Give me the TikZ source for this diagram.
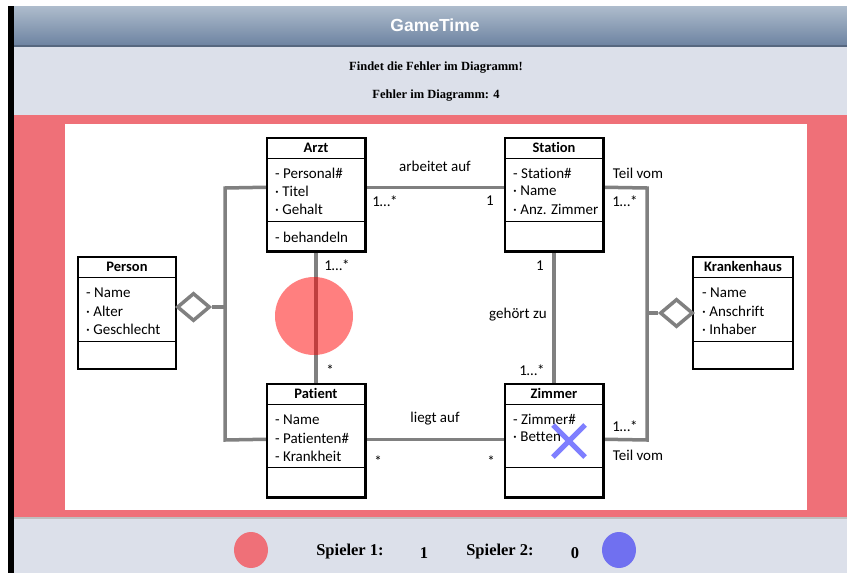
\documentclass[tikz,border=0pt]{standalone}
\usepackage{fontspec}
\setmainfont{Carlito}[Ligatures={NoCommon}]
\newfontfamily\hdrfont{Liberation Sans}
\newfontfamily\tmsfont{Liberation Serif}
\usetikzlibrary{shapes.geometric,calc}
\definecolor{hdrtop}{HTML}{AEBCCC}
\definecolor{hdrbot}{HTML}{6E84A2}
\definecolor{hdrline}{HTML}{56677F}
\definecolor{panel}{HTML}{DCE0EA}
\definecolor{band}{HTML}{EF7078}
\definecolor{conngray}{HTML}{808080}
\definecolor{pone}{HTML}{EF7078}
\definecolor{ptwo}{HTML}{7070F0}
\begin{document}
\begin{tikzpicture}[x=1pt,y=-1pt,
  umlbox/.style={draw=black,line width=1.5pt,fill=white,rectangle,inner sep=0pt,minimum width=98pt,minimum height=113pt},
  sep/.style={draw=black,line width=1.5pt},
  cls/.style={inner sep=0pt,font=\fontsize{14.5}{16}\selectfont\bfseries},
  attr/.style={anchor=west,inner sep=0pt,font=\fontsize{15}{17}\selectfont},
  lbl/.style={inner sep=0pt,font=\fontsize{15}{17}\selectfont},
  conn/.style={draw=conngray,line width=3.5pt},
  agg/.style={diamond,draw=conngray,line width=3.5pt,fill=white,inner sep=0pt,minimum width=33pt,minimum height=28pt},
  info/.style={inner sep=0pt,font=\tmsfont\bfseries\fontsize{12.5}{15}\selectfont},
  score/.style={inner sep=0pt,font=\tmsfont\bfseries\fontsize{16.5}{19}\selectfont},
]
% backgrounds
\fill[white] (0,0) rectangle (847,573);
\useasboundingbox (0,0) rectangle (847,573);
\fill[black] (8,6) rectangle (14,573);
\shade[top color=hdrtop,bottom color=hdrbot] (14,6) rectangle (847,45);
\fill[hdrline] (14,45) rectangle (847,47);
\fill[panel] (14,47) rectangle (847,115);
\fill[band] (14,115) rectangle (847,517);
\fill[white] (65,124) rectangle (807,510);
\fill[panel] (14,518) rectangle (847,573);
\fill[black!25] (14,517) rectangle (847,518.5);

% header texts
\node[inner sep=0pt,text=white,font=\hdrfont\bfseries\fontsize{17.5}{20}\selectfont] (title) at (435,25) {GameTime};
\node[info] (task) at (436,68) {Findet die Fehler im Diagramm!};
\node[info] (count) at (436,96) {Fehler im Diagramm: 4};

% classes
\node[umlbox] (arzt) at (316,194.5) {};
\node[umlbox] (station) at (554,194.5) {};
\node[umlbox,minimum height=112pt] (person) at (127,313) {};
\node[umlbox,minimum width=100pt,minimum height=112pt] (kh) at (743,313) {};
\node[umlbox] (patient) at (316,440.5) {};
\node[umlbox] (zimmer) at (554,440.5) {};

% connectors
\coordinate (lt) at (225,188);
\coordinate (lb) at (225,440);
\coordinate (jl) at (225,307);
\coordinate (rt) at (647,188);
\coordinate (rb) at (647,440);
\coordinate (jr) at (647,313);
\draw[conn] ($(arzt.north east)+(0,50)$) -- ($(station.north west)+(0,50)$);
\draw[conn] (arzt.south) -- (patient.north);
\draw[conn] (station.south) -- (zimmer.north);
\draw[conn] ($(patient.north east)+(0,56)$) -- ($(zimmer.north west)+(0,56)$);
\draw[conn] ($(arzt.north west)+(0,50)$) -- (lt) -- (lb) -- ($(patient.north west)+(0,56)$);
\draw[conn] ($(station.north east)+(0,50)$) -- (rt) -- (rb) -- ($(zimmer.north east)+(0,56)$);
\node[agg] (aggl) at (193.5,307) {};
\node[agg] (aggr) at (676.5,313) {};
\draw[conn] (aggl.east) -- (jl);
\draw[conn] (aggr.west) -- (jr);

% redraw boxes on top
\foreach \b in {arzt,station,patient,zimmer}{
  \draw[sep] (\b.north west) rectangle (\b.south east);
  \draw[sep] ($(\b.north west)+(0,21)$) -- ($(\b.north east)+(0,21)$);
  \draw[sep] ($(\b.north west)+(0,84)$) -- ($(\b.north east)+(0,84)$);
}
\foreach \b in {person,kh}{
  \draw[sep] ($(\b.north west)+(0,21)$) -- ($(\b.north east)+(0,21)$);
  \draw[sep] ($(\b.north west)+(0,85)$) -- ($(\b.north east)+(0,85)$);
}

% class titles
\node[cls] (arztT) at ($(arzt.north)+(0,10.5)$) {Arzt};
\node[cls] (stationT) at ($(station.north)+(0,10.5)$) {Station};
\node[cls] (personT) at ($(person.north)+(0,10.5)$) {Person};
\node[cls] (khT) at ($(kh.north)+(0,10.5)$) {Krankenhaus};
\node[cls] (patientT) at ($(patient.north)+(0,10.5)$) {Patient};
\node[cls] (zimmerT) at ($(zimmer.north)+(0,10.5)$) {Zimmer};

% attributes
\node[attr] (a1) at (275,173) {- Personal\#};
\node[attr] (a2) at (275,191) {· Titel};
\node[attr] (a3) at (275,209) {· Gehalt};
\node[attr] (a4) at (275,237) {- behandeln};
\node[attr] (s1) at (513,173) {- Station\#};
\node[attr] (s2) at (513,191) {· Name};
\node[attr] (s3) at (513,209) {· Anz. Zimmer};
\node[attr] (p1) at (86,293) {- Name};
\node[attr] (p2) at (86,311) {· Alter};
\node[attr] (p3) at (86,329) {· Geschlecht};
\node[attr] (k1) at (702,293) {- Name};
\node[attr] (k2) at (702,311) {· Anschrift};
\node[attr] (k3) at (702,329) {· Inhaber};
\node[attr] (t1) at (275,420) {- Name};
\node[attr] (t2) at (275,438) {- Patienten\#};
\node[attr] (t3) at (275,456) {- Krankheit};
\node[attr] (z1) at (513,419) {- Zimmer\#};
\node[attr] (z2) at (513,437) {· Betten};

% association labels
\node[lbl] (l1) at (435,166) {arbeitet auf};
\node[lbl] (l2) at (385,201) {1…*};
\node[lbl] (l3) at (490,201) {1};
\node[lbl] (l4) at (337,265) {1…*};
\node[lbl] (l5) at (330,370) {*};
\node[lbl] (l6) at (540,266) {1};
\node[lbl] (l7) at (518,315) {gehört zu};
\node[lbl] (l8) at (532,370) {1…*};
\node[lbl] (l9) at (435,419) {liegt auf};
\node[lbl] (l10) at (378,461) {*};
\node[lbl] (l11) at (491,461) {*};
\node[lbl] (l12) at (638,173) {Teil vom};
\node[lbl] (l13) at (625,201) {1…*};
\node[lbl] (l14) at (625,426) {1…*};
\node[lbl] (l15) at (638,455) {Teil vom};

% player marks
\node[circle,fill=red,opacity=0.5,minimum size=78pt,inner sep=0pt] (mark1) at (314,316) {};
\draw[line width=5pt,draw=blue,opacity=0.5] (553,425) -- (585,457) (553,457) -- (585,425);

% score bar
\node[ellipse,fill=pone,minimum width=34pt,minimum height=36pt,inner sep=0pt] (c1) at (251,550) {};
\node[score] (sp1) at (350,552) {Spieler 1:};
\node[score] (sc1) at (424,553) {1};
\node[score] (sp2) at (500,552) {Spieler 2:};
\node[score] (sc2) at (575,553) {0};
\node[ellipse,fill=ptwo,minimum width=34pt,minimum height=36pt,inner sep=0pt] (c2) at (619,550) {};
\end{tikzpicture}
\end{document}
